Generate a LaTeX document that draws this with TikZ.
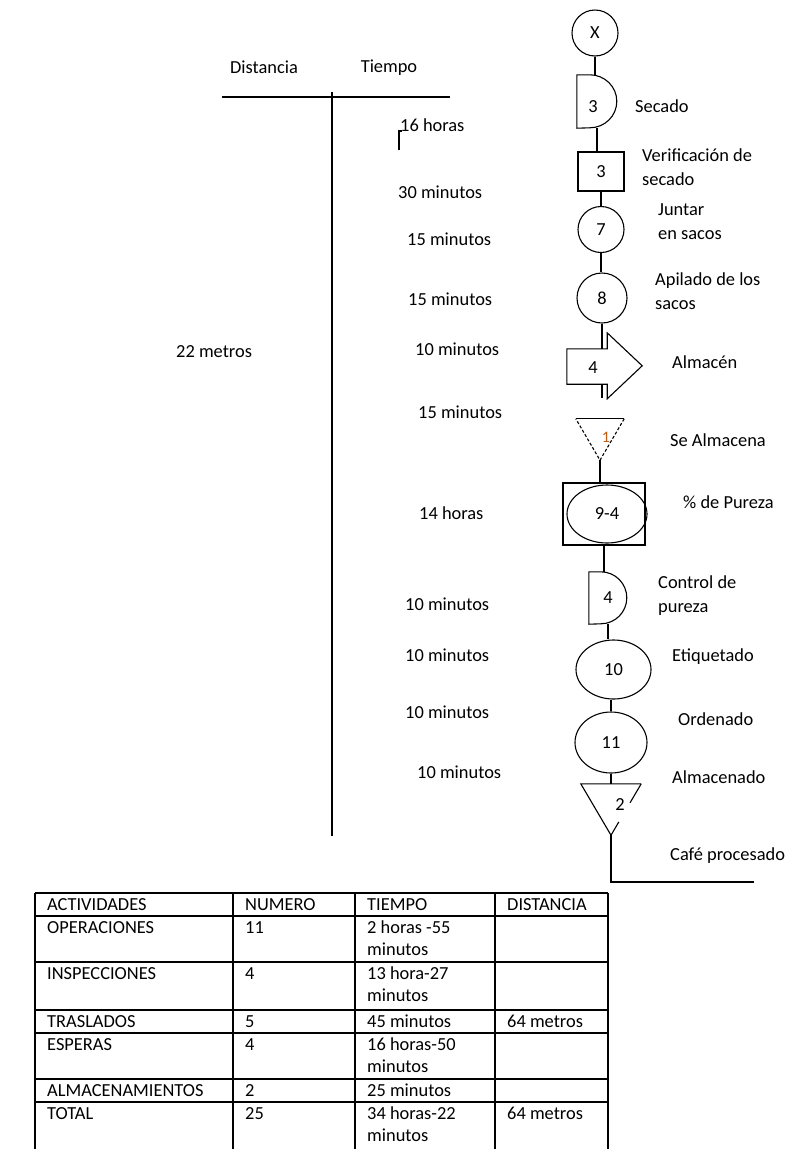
\documentclass[tikz,border=0pt]{standalone}
\usepackage{fontspec}
\setmainfont{Carlito}
\usetikzlibrary{shapes.geometric,calc}

\definecolor{naranja}{RGB}{197,90,17}

\tikzset{
  linea/.style={line width=1.1pt},
  tabla/.style={line width=1.3pt},
  circulo/.style={draw,circle,line width=1.1pt,inner sep=0pt},
  elipse/.style={draw,ellipse,line width=1.1pt,inner sep=0pt},
  caja/.style={draw,rectangle,line width=1.1pt,inner sep=0pt},
  hueco/.style={rectangle,inner sep=0pt},
  texto/.style={inner sep=0pt,text height=13pt,text depth=1.5pt},
  bloque/.style={inner sep=0pt,align=left},
  celda/.style={anchor=base west,inner sep=0pt,align=left,font=\fontsize{18.4}{22}\selectfont},
}

\begin{document}
\begin{tikzpicture}[x=1pt,y=-1pt,font=\fontsize{18.4}{24}\selectfont]
\useasboundingbox (0,0) rectangle (793,1149);

% columnas distancia / tiempo
\node[texto] (dist) at (264,68) {Distancia};
\node[texto] (tiem) [right of=dist,node distance=125pt,yshift=1pt] {Tiempo};
\draw[linea] (222,97) -- (450,97);
\draw[linea] (332,92) -- (332,836);

\node[texto,anchor=west] (h1) at (400,126) {16 horas};
\draw[linea] (399,150) -- (399,131) -- (402,131);
\node[texto,anchor=west] (h2) at (398,193) {30 minutos};
\node[texto,anchor=west] (h3) at (407,240) {15 minutos};
\node[texto,anchor=west] (h4) at (408,300) {15 minutos};
\node[texto,anchor=west] (h5) at (415,350) {10 minutos};
\node[texto,anchor=west] (h6) at (418,413) {15 minutos};
\node[texto,anchor=west] (h7) at (419,514) {14 horas};
\node[texto,anchor=west] (h8) at (405,605) {10 minutos};
\node[texto,anchor=west] (h9) at (405,656) {10 minutos};
\node[texto,anchor=west] (h10) at (405,713) {10 minutos};
\node[texto,anchor=west] (h11) at (417,773) {10 minutos};
\node[texto,anchor=west] (m22) at (176,352) {22 metros};

% diagrama
\node[circulo,minimum size=46pt] (x0) at (595,33) {X};
\node[hueco,minimum width=40pt,minimum height=53pt] (d1) [below of=x0,node distance=68.5pt,xshift=2pt] {};
\node[caja,minimum width=46pt,minimum height=39pt] (sq) [below of=d1,node distance=70pt,xshift=4pt] {3};
\node[circulo,minimum size=46pt] (c7) [below of=sq,node distance=58pt] {7};
\node[circulo,minimum size=50pt] (c8) [below of=c7,node distance=68.5pt,xshift=1pt] {8};
\node[hueco,minimum width=40pt,minimum height=35pt] (alm) [below of=c8,node distance=68.5pt,xshift=-15pt] {};
\node[coordinate] (almb) [below of=alm,node distance=31.5pt] {};
\node[hueco,minimum width=48pt,minimum height=41pt] (t1) [below of=alm,node distance=73pt,xshift=13pt] {};
\node[caja,minimum width=82pt,minimum height=62pt] (pur) [below of=t1,node distance=74.5pt,xshift=4pt] {};
\node[elipse,minimum width=80pt,minimum height=58pt] (purE) [right of=pur,node distance=3pt] {9-4};
\node[hueco,minimum width=38pt,minimum height=52pt] (d4) [below of=pur,node distance=84pt,xshift=4pt] {4};
\node[elipse,minimum width=75pt,minimum height=59pt] (e10) [below of=d4,node distance=71.5pt,xshift=5.5pt] {10};
\node[elipse,minimum width=72pt,minimum height=61pt] (e11) [below of=e10,node distance=73pt,xshift=-2.5pt] {11};
\node[hueco,minimum width=60pt,minimum height=51pt] (t2) [below of=e11,node distance=67pt] {};
\node[coordinate] (esq) [below of=t2,node distance=72.5pt] {};
\node[coordinate] (fin) [right of=esq,node distance=143pt] {};

\node (n1) at ([xshift=-4pt,yshift=-5.5pt]d1.center) {3};
\node (n4) at ([xshift=6pt,yshift=-1.5pt]alm.center) {4};
\node[text=naranja,font=\fontsize{16}{18}\selectfont] (n1b) at ([xshift=6pt,yshift=2.5pt]t1.center) {1};
\node (n2) at ([xshift=9pt,yshift=4.5pt]t2.center) {2};

\draw[linea] (d1.south west) -- (d1.north west) -- ++(13,0)
  arc[start angle=90,end angle=-90,x radius=27pt,y radius=26.5pt] -- cycle;
\draw[linea] (alm.north east) -- ++(0,-16) -- ++(35,33) -- ++(-35,33)
  -- (alm.south east) -- (alm.south west) -- (alm.north west) -- cycle;
\draw[linea] (t1.north west) -- (t1.north east);
\draw[linea,dash pattern=on 3pt off 2pt] (t1.north east) -- (t1.south) -- (t1.north west);
\draw[linea] (d4.south west) -- (d4.north west) -- ++(12,0)
  arc[start angle=90,end angle=-90,x radius=26pt,y radius=26pt] -- cycle;
\draw[linea] (t2.north east) -- (t2.north west) -- (t2.south)
  -- ($(t2.south)!0.26!(t2.north east)$);
\draw[linea] ($(t2.north east)!0.37!(t2.south)$) -- (t2.north east);

\draw[linea] (x0.south) -- (x0.south |- d1.north);
\draw[linea] (d1.south) -- (d1.south |- sq.north);
\draw[linea] (sq.south) -- (c7.north);
\draw[linea] (c7.south) -- (c7.south |- c8.north);
\draw[linea] (c8.south) -- (c8.south |- alm.north);
\draw[linea] (c8.south |- alm.south) -- (c8.south |- almb);
\draw[linea] (t1.south) -- (t1.south |- pur.north);
\draw[linea] (pur.south) -- (pur.south |- d4.north);
\draw[linea] (d4.south) -- (d4.south |- e10.north);
\draw[linea] (e11.north |- e10.south) -- (e11.north);
\draw[linea] (e11.south) -- (t2.north);
\draw[linea] (t2.south) -- (esq) -- (fin);

\node[texto] (lsec) [right of=d1,node distance=38pt,anchor=west,yshift=-5.5pt] {Secado};
\node[bloque] (lver) [right of=sq,node distance=41pt,anchor=west,yshift=4.5pt] {Verificación de\\secado};
\node[bloque] (ljun) [right of=c7,node distance=57pt,anchor=west,yshift=8pt] {Juntar\\en sacos};
\node[bloque] (lapi) [right of=c8,node distance=53pt,anchor=west,yshift=6.5pt] {Apilado de los\\sacos};
\node[texto] (lalm) [right of=alm,node distance=85pt,anchor=west,yshift=3.5pt] {Almacén};
\node[texto] (lsea) [right of=t1,node distance=70pt,anchor=west,yshift=-1.5pt] {Se Almacena};
\node[texto] (lpur) [right of=pur,node distance=79pt,anchor=west,yshift=11pt] {\% de Pureza};
\node[bloque] (lcon) [right of=d4,node distance=50pt,anchor=west,yshift=2.5pt] {Control de\\pureza};
\node[texto] (leti) [right of=e10,node distance=58.5pt,anchor=west,yshift=13.5pt] {Etiquetado};
\node[texto] (lord) [right of=e11,node distance=67pt,anchor=west,yshift=22.5pt] {Ordenado};
\node[texto] (lalc) [right of=t2,node distance=61pt,anchor=west,yshift=31.5pt] {Almacenado};
\node[texto] (lcaf) [right of=t2,node distance=59pt,anchor=west,yshift=-45.5pt] {Café procesado};

% tabla resumen
\draw[tabla] (35,893) -- (608,893);
\draw[tabla] (35,916) -- (608,916);
\draw[tabla] (35,962) -- (608,962);
\draw[tabla] (35,1010) -- (608,1010);
\draw[tabla] (35,1033) -- (608,1033);
\draw[tabla] (35,1079) -- (608,1079);
\draw[tabla] (35,1102) -- (608,1102);
\draw[tabla] (35,893) -- (35,1149);
\draw[tabla] (233,893) -- (233,1149);
\draw[tabla] (355,893) -- (355,1149);
\draw[tabla] (495,893) -- (495,1149);
\draw[tabla] (608,893) -- (608,1149);

% celdas (base = ultima linea)
\node[celda] (a0) at (47,910) {ACTIVIDADES};
\node[celda] (b0) at (245,910) {NUMERO};
\node[celda] (c0) at (367,910) {TIEMPO};
\node[celda] (e0) at (507,910) {DISTANCIA};
\node[celda] (a1) at (47,933) {OPERACIONES};
\node[celda] (b1) at (245,933) {11};
\node[celda] (c1) at (367,955) {2 horas -55\\minutos};
\node[celda] (a2) at (47,979) {INSPECCIONES};
\node[celda] (b2) at (245,979) {4};
\node[celda] (c2) at (367,1001) {13 hora-27\\minutos};
\node[celda] (a3) at (47,1027) {TRASLADOS};
\node[celda] (b3) at (245,1027) {5};
\node[celda] (c3) at (367,1027) {45 minutos};
\node[celda] (e3) at (507,1027) {64 metros};
\node[celda] (a4) at (47,1050) {ESPERAS};
\node[celda] (b4) at (245,1050) {4};
\node[celda] (c4) at (367,1072) {16 horas-50\\minutos};
\node[celda] (a5) at (47,1096) {ALMACENAMIENTOS};
\node[celda] (b5) at (245,1096) {2};
\node[celda] (c5) at (367,1096) {25 minutos};
\node[celda] (a6) at (47,1119) {TOTAL};
\node[celda] (b6) at (245,1119) {25};
\node[celda] (c6) at (367,1141) {34 horas-22\\minutos};
\node[celda] (e6) at (507,1119) {64 metros};
\end{tikzpicture}
\end{document}
